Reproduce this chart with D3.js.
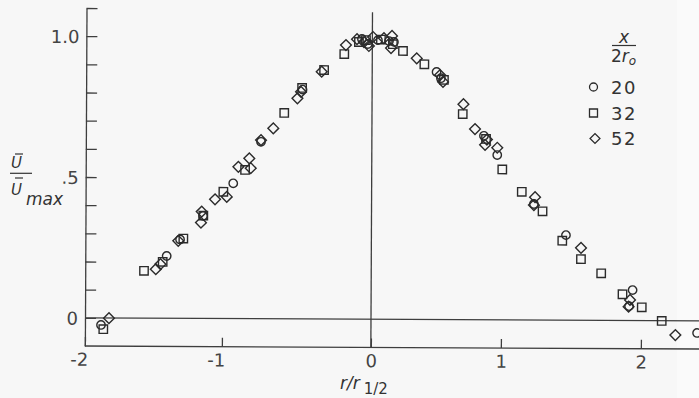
<!DOCTYPE html>
<html><head><meta charset="utf-8">
<script src="https://cdn.jsdelivr.net/npm/d3@7"></script>
<style>html,body{margin:0;padding:0;background:#f7f7f7;} svg{display:block}</style>
</head><body><svg id="c" width="699" height="398"></svg>
<script>
// ---- data ----
const xTickValues = [-2, -1, 0, 1, 2];
const xTickLabels = ["-2", "-1", "0", "1", "2"];
const yTickValues = [0, 0.1, 0.2, 0.3, 0.4, 0.5, 0.6, 0.7, 0.8, 0.9, 1.0, 1.1];
const yTickLabels = {"0": "0", "0.5": ".5", "1": "1.0"};
const legendLabels = ["20", "32", "52"];

const series20 = [
  [-1.883,-0.025],[-1.406,0.221],[-1.309,0.280],[-1.142,0.364],[-0.929,0.480],[-0.744,0.628],
  [-0.467,0.814],[-0.070,0.995],[-0.030,0.977],[0.043,0.991],[0.128,0.988],[0.166,0.985],
  [0.495,0.879],[0.529,0.857],[0.862,0.653],[0.965,0.585],[1.231,0.412],[1.461,0.302],
  [1.939,0.108],[1.914,0.051],[2.401,-0.043]
];
const series32 = [
  [-1.866,-0.040],[-1.571,0.168],[-1.435,0.200],[-1.285,0.283],[-1.140,0.365],[-0.995,0.450],
  [-0.850,0.528],[-0.589,0.731],[-0.470,0.820],[-0.323,0.884],[-0.188,0.941],[-0.090,0.984],
  [-0.043,0.991],[0.066,0.993],[0.158,0.977],[0.236,0.953],[0.401,0.906],[0.552,0.851],
  [0.698,0.730],[0.878,0.642],[1.004,0.534],[1.144,0.455],[1.293,0.386],[1.435,0.282],
  [1.569,0.217],[1.714,0.167],[1.867,0.093],[2.005,0.047],[2.148,-0.001]
];
const series52 = [
  [-1.825,-0.001],[-1.485,0.174],[-1.451,0.192],[-1.322,0.275],[-1.152,0.379],[-1.157,0.340],
  [-1.055,0.423],[-0.972,0.432],[-0.895,0.539],[-0.822,0.569],[-0.812,0.534],[-0.744,0.634],
  [-0.662,0.676],[-0.501,0.783],[-0.477,0.806],[-0.339,0.878],[-0.177,0.973],[-0.103,0.994],
  [-0.056,0.984],[-0.023,0.970],[0.005,1.002],[0.089,0.998],[0.151,1.006],[0.144,0.963],
  [0.342,0.927],[0.522,0.868],[0.545,0.844],[0.703,0.765],[0.793,0.677],[0.885,0.640],
  [0.871,0.621],[0.965,0.611],[1.239,0.436],[1.231,0.408],[1.569,0.257],[1.921,0.073],
  [1.911,0.049],[2.246,-0.051]
];

// ---- drawing ----
const svg = d3.select("#c");
const ink = "#2b2b2b";
const axisInk = "#3e3e3e";
const font = "'DejaVu Sans', 'Liberation Sans', sans-serif";

svg.append("rect").attr("width", 699).attr("height", 398).attr("fill", "#f7f7f7");
svg.append("rect").attr("x", 677).attr("width", 22).attr("height", 398).attr("fill", "#fafafa");

// the scanned figure is slightly rotated
const g = svg.append("g").attr("transform", "rotate(0.28,85,318)");

const x = d3.scaleLinear().domain([-2, -1, 0, 1, 2, 2.5]).range([85, 222, 371, 501, 641, 711]);
const y = d3.scaleLinear().domain([-0.1, 1.1]).range([346, 8]);

// y axis (ticks pointing inward)
const yAxis = d3.axisLeft(y).tickValues(yTickValues).tickSizeInner(-11).tickSizeOuter(0)
  .tickPadding(7).tickFormat(d => yTickLabels[String(+d.toFixed(1))] || "");
const ya = g.append("g").attr("transform", `translate(${x(-2)},0)`).call(yAxis);
ya.selectAll("path,line").attr("stroke", axisInk).attr("stroke-width", 1.3);
ya.selectAll("text").attr("font-family", font).attr("font-size", 18).attr("fill", "#444")
  .attr("dy", "0.36em");

// x axis (bottom, ticks pointing up)
const xAxis = d3.axisBottom(x).tickValues(xTickValues).tickSizeInner(-9).tickSizeOuter(0)
  .tickPadding(7).tickFormat((d, i) => xTickLabels[i]);
const xa = g.append("g").attr("transform", `translate(0,${y(-0.1)})`).call(xAxis);
xa.select(".domain").attr("d", `M${x(-2)},0H${x(2.5)}`);
xa.selectAll("path,line").attr("stroke", axisInk).attr("stroke-width", 1.3);
xa.selectAll("text").attr("font-family", font).attr("font-size", 18).attr("fill", "#444")
  .attr("dx", d => d < 0 ? -6 : 0);

// zero lines
g.append("line").attr("x1", x(-2)).attr("x2", x(2.5)).attr("y1", y(0)).attr("y2", y(0))
  .attr("stroke", axisInk).attr("stroke-width", 1.3);
g.append("line").attr("x1", x(0)).attr("x2", x(0)).attr("y1", y(1.09)).attr("y2", y(-0.1))
  .attr("stroke", axisInk).attr("stroke-width", 1.3);

// markers
const symCircle = d3.symbol().type(d3.symbolCircle).size(Math.PI * 4.2 * 4.2);
const symSquare = d3.symbol().type(d3.symbolSquare).size(8.4 * 8.4);
const symDiamond = d3.symbol().type(d3.symbolSquare).size(7.6 * 7.6);

function plot(data, sym, rot) {
  g.append("g").selectAll("path").data(data).join("path")
    .attr("d", sym)
    .attr("transform", d => `translate(${x(d[0])},${y(d[1])})` + (rot ? " rotate(45)" : ""))
    .attr("fill", "none").attr("stroke", ink).attr("stroke-width", 1.4);
}
plot(series32, symSquare, false);
plot(series52, symDiamond, true);
plot(series20, symCircle, false);

// y title: U-bar / U-bar max
const yt = svg.append("g").attr("font-family", font).attr("fill", "#333");
yt.append("text").attr("x", 11).attr("y", 168).attr("font-size", 15).attr("font-style", "italic").text("U");
yt.append("line").attr("x1", 15).attr("x2", 23).attr("y1", 154).attr("y2", 154).attr("stroke", "#333").attr("stroke-width", 1.2);
yt.append("line").attr("x1", 10).attr("x2", 32).attr("y1", 173.3).attr("y2", 173.3).attr("stroke", "#333").attr("stroke-width", 1.2);
yt.append("text").attr("x", 11).attr("y", 195).attr("font-size", 15).attr("font-style", "italic").text("U");
yt.append("line").attr("x1", 15).attr("x2", 23).attr("y1", 178).attr("y2", 178).attr("stroke", "#333").attr("stroke-width", 1.2);
yt.append("text").attr("x", 26).attr("y", 205).attr("font-size", 17).attr("font-style", "italic").text("max");

// x title
const xt = svg.append("text").attr("font-family", font).attr("fill", "#333").attr("x", 340).attr("y", 389);
xt.append("tspan").attr("font-size", 17).attr("font-style", "italic").text("r/r");
xt.append("tspan").attr("font-size", 15).attr("dx", 4).attr("dy", 5).text("1/2");

// legend
const lg = svg.append("g").attr("font-family", font).attr("fill", "#333");
lg.append("text").attr("x", 624).attr("y", 43).attr("text-anchor", "middle").attr("font-size", 17)
  .attr("font-style", "italic").text("x");
lg.append("line").attr("x1", 612).attr("x2", 636).attr("y1", 45.5).attr("y2", 45.5).attr("stroke", "#333").attr("stroke-width", 1.2);
const lt = lg.append("text").attr("x", 611).attr("y", 62).attr("font-size", 17);
lt.append("tspan").text("2");
lt.append("tspan").attr("font-style", "italic").text("r");
lt.append("tspan").attr("font-size", 12).attr("font-style", "italic").attr("dy", 3).text("o");

const legSyms = [[symCircle, false], [symSquare, false], [symDiamond, true]];
const legendY = [87, 113, 138.5];
legendLabels.forEach((lab, i) => {
  lg.append("path").attr("d", legSyms[i][0].size(i === 0 ? Math.PI * 16 : (i === 1 ? 64 : 49))())
    .attr("transform", `translate(${i === 2 ? 595 : 593.5},${legendY[i]})` + (legSyms[i][1] ? " rotate(45)" : ""))
    .attr("fill", "none").attr("stroke", ink).attr("stroke-width", 1.3);
  lg.append("text").attr("x", 611).attr("y", legendY[i] + 6.5).attr("font-size", 18)
    .attr("letter-spacing", 1.5).text(lab);
});
</script></body></html>
